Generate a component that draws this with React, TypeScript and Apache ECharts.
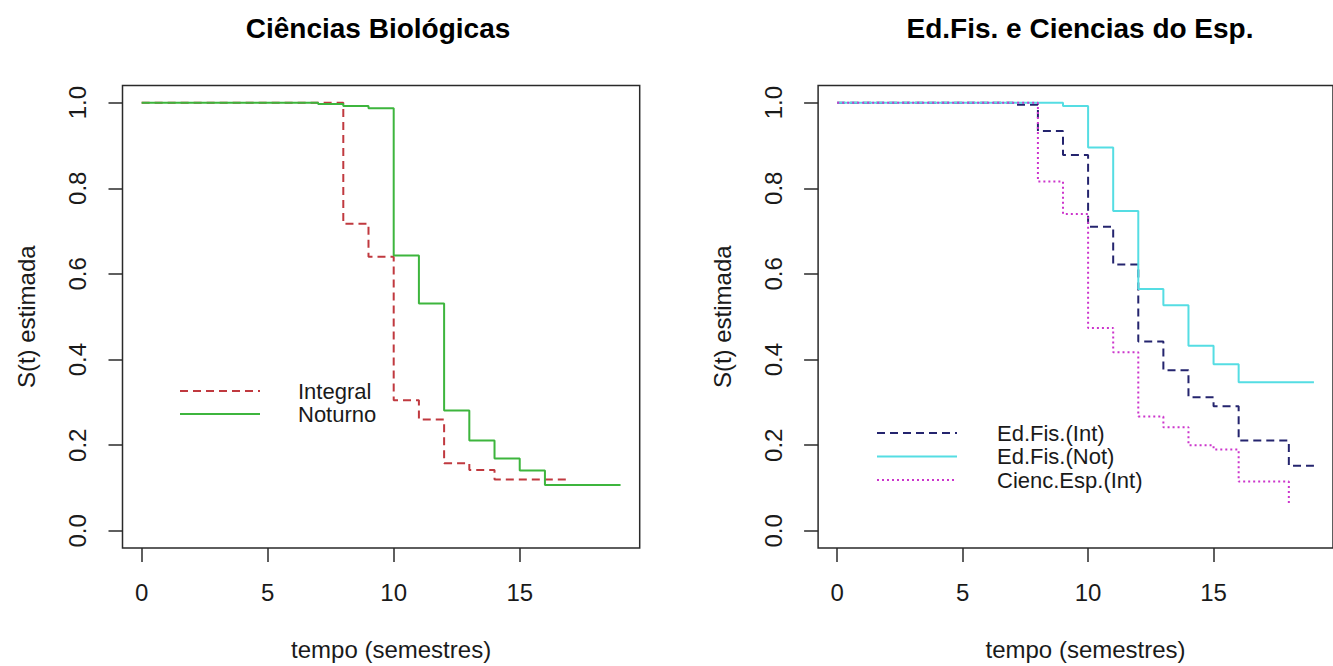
import React, { useEffect, useRef } from "react";
import * as echarts from "echarts";

// ---------- texts ----------
const leftTitle = "Ciências Biológicas";
const rightTitle = "Ed.Fis. e Ciencias do Esp.";
const xAxisTitle = "tempo (semestres)";
const yAxisTitle = "S(t) estimada";

// ---------- ticks ----------
const xTicks = [0, 5, 10, 15];
const yTicks = [0, 0.2, 0.4, 0.6, 0.8, 1.0];

// ---------- left panel data (Kaplan-Meier steps) ----------
const leftNames = ["Integral", "Noturno"];
const integralT = [0, 8, 9, 10, 11, 12, 13, 14, 17];
const integralS = [1, 0.717, 0.64, 0.305, 0.26, 0.158, 0.142, 0.12, 0.12];
const noturnoT = [0, 7, 8, 9, 10, 11, 12, 13, 14, 15, 16, 19];
const noturnoS = [1, 0.997, 0.992, 0.987, 0.643, 0.531, 0.281, 0.211, 0.169, 0.141, 0.107, 0.107];

// ---------- right panel data ----------
const rightNames = ["Ed.Fis.(Int)", "Ed.Fis.(Not)", "Cienc.Esp.(Int)"];
const efIntT = [0, 7, 8, 9, 10, 11, 12, 13, 14, 15, 16, 18, 19];
const efIntS = [1, 0.995, 0.934, 0.878, 0.71, 0.622, 0.442, 0.375, 0.312, 0.291, 0.211, 0.152, 0.152];
const efNotT = [0, 9, 10, 11, 12, 13, 14, 15, 16, 19];
const efNotS = [1, 0.992, 0.895, 0.747, 0.565, 0.527, 0.432, 0.389, 0.347, 0.347];
const ceIntT = [0, 8, 9, 10, 11, 12, 13, 14, 15, 16, 18];
const ceIntS = [1, 0.816, 0.74, 0.474, 0.417, 0.267, 0.242, 0.2, 0.19, 0.115, 0.064];

// ---------- styles ----------
const FONT = '"Liberation Sans", Arial, sans-serif';
const TXT = "#1a1a1a";
const AX = "#2a2a2a";
const leftColors = ["#C0393F", "#3DB53D"];
const leftDash: any[] = [[8, 5], "solid"];
const rightColors = ["#24246E", "#55DDE3", "#CC35CC"];
const rightDash: any[] = [[8, 5], "solid", [2, 3]];

const zip = (t: number[], s: number[]) => t.map((v, i) => [v, s[i]]);

export default function App() {
  const ref = useRef<HTMLDivElement>(null);
  useEffect(() => {
    if (!ref.current) return;
    const chart = echarts.init(ref.current, null, { renderer: "svg" });

    const gridW = 517.2;
    const gridH = 463.4;
    const grids = [
      { left: 122.5, top: 85.5, width: gridW, height: gridH },
      { left: 818.1, top: 85.5, width: gridW, height: gridH },
    ].map((g) => ({ ...g, show: true, borderColor: AX, borderWidth: 1.5, backgroundColor: "transparent", containLabel: false }));

    const xAxis = (gi: number) => ({
      type: "value",
      gridIndex: gi,
      min: -0.76,
      max: 19.76,
      axisLine: { show: false, onZero: false },
      splitLine: { show: false },
      axisTick: { show: true, customValues: xTicks, length: 14, inside: false, lineStyle: { color: AX, width: 1.5 } },
      axisLabel: { show: true, customValues: xTicks, margin: 32, fontSize: 24, fontFamily: FONT, color: TXT },
      name: xAxisTitle,
      nameLocation: "middle",
      nameGap: 89,
      nameTextStyle: { fontSize: 24, fontFamily: FONT, color: TXT, padding: [0, 0, 0, 20] },
    });
    const yAxis = (gi: number) => ({
      type: "value",
      gridIndex: gi,
      min: -0.04,
      max: 1.04,
      axisLine: { show: false, onZero: false },
      splitLine: { show: false },
      axisTick: { show: true, customValues: yTicks, length: 14, inside: false, lineStyle: { color: AX, width: 1.5 } },
      axisLabel: {
        show: true,
        customValues: yTicks,
        rotate: 90,
        margin: 33,
        fontSize: 24,
        fontFamily: FONT,
        color: TXT,
        formatter: (v: number) => v.toFixed(1),
      },
      name: yAxisTitle,
      nameLocation: "middle",
      nameRotate: 90,
      nameGap: 84,
      nameTextStyle: { fontSize: 24, fontFamily: FONT, color: TXT },
    });

    const mk = (name: string, data: number[][], color: string, dash: any, gi: number) => ({
      type: "line",
      name,
      xAxisIndex: gi,
      yAxisIndex: gi,
      step: "end",
      data,
      showSymbol: false,
      symbol: "none",
      lineStyle: { color, width: 2, type: dash },
      silent: true,
    });

    const series = [
      mk(leftNames[0], zip(integralT, integralS), leftColors[0], leftDash[0], 0),
      mk(leftNames[1], zip(noturnoT, noturnoS), leftColors[1], leftDash[1], 0),
      mk(rightNames[0], zip(efIntT, efIntS), rightColors[0], rightDash[0], 1),
      mk(rightNames[1], zip(efNotT, efNotS), rightColors[1], rightDash[1], 1),
      mk(rightNames[2], zip(ceIntT, ceIntS), rightColors[2], rightDash[2], 1),
    ];

    const legendItems = (names: string[], colors: string[], dashes: any[], x1: number, x2: number, tx: number, y0: number, dy: number) =>
      names.flatMap((n, i) => [
        {
          type: "line",
          shape: { x1, y1: y0 + i * dy, x2, y2: y0 + i * dy },
          style: { stroke: colors[i], lineWidth: 2, lineDash: Array.isArray(dashes[i]) ? dashes[i] : null },
          silent: true,
        },
        {
          type: "text",
          x: tx,
          y: y0 + i * dy,
          style: { text: n, fontSize: 22, lineHeight: 20, fontFamily: FONT, fill: TXT, align: "left", verticalAlign: "middle" },
          silent: true,
        },
      ]);

    const titleText = (text: string, x: number) => ({
      type: "text",
      x,
      y: 28,
      style: { text, fontSize: 28, fontWeight: "bold", fontFamily: FONT, fill: "#000", align: "center", verticalAlign: "middle" },
      silent: true,
    });

    chart.setOption({
      animation: false,
      backgroundColor: "#fff",
      grid: grids,
      xAxis: [xAxis(0), xAxis(1)],
      yAxis: [yAxis(0), yAxis(1)],
      series,
      graphic: [
        titleText(leftTitle, 378),
        titleText(rightTitle, 1080),
        ...legendItems(leftNames, leftColors, leftDash, 180, 260, 298, 391, 23),
        ...legendItems(rightNames, rightColors, rightDash, 877, 957, 997, 433, 23.5),
      ],
    });
    return () => chart.dispose();
  }, []);
  return <div ref={ref} style={{ position: "fixed", left: 0, top: 0, width: 1333, height: 666, background: "#fff" }} />;
}
